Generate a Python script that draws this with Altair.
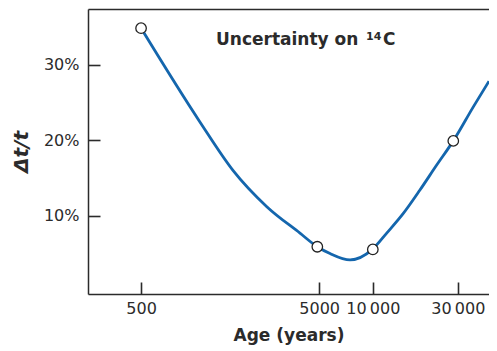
import altair as alt
import pandas as pd

# Curve
curve_age = [500, 1070, 1640, 2540, 3900, 4880, 5750, 7450, 9940, 11970, 14830, 18390, 22830, 28300, 36650, 44900]
curve_unc = [34.8, 22.4, 16.0, 11.2, 7.7, 5.9, 5.0, 4.15, 5.55, 7.7, 10.3, 13.4, 16.7, 19.9, 24.4, 27.8]

# Measured points
point_age = [500, 4880, 10000, 28300]
point_unc = [34.8, 5.9, 5.55, 19.9]

# Axis ticks
x_ticks = [500, 5000, 10000, 30000]
y_ticks = [10, 20, 30]

# Annotation "Uncertainty on 14C"
note_main = ["Uncertainty on"]
note_sup = ["14"]
note_elem = ["C"]
note_age = [1317]
note_unc = [32.6]

W, H = 401, 285
FONT = "DejaVu Sans"
INK = "#2b2b2b"
BLUE = "#1466ad"

xscale = alt.Scale(type="log", domain=[251.8, 44900], nice=False)
yscale = alt.Scale(domain=[-0.35, 37.34], nice=False, zero=False)

curve_df = pd.DataFrame({"age": curve_age, "unc": curve_unc})
point_df = pd.DataFrame({"age": point_age, "unc": point_unc})
note_df = pd.DataFrame({"age": note_age, "unc": note_unc, "main": note_main,
                        "sup": note_sup, "elem": note_elem})

inward = {"expr": "-12"}

line = alt.Chart(curve_df).mark_line(interpolate="monotone", color=BLUE, strokeWidth=2.8).encode(
    x=alt.X("age:Q", scale=xscale, axis=alt.Axis(
        values=x_ticks, ticks=True, tickSize=inward, tickWidth=1.6, tickColor=INK, grid=False,
        title="Age (years)",
        labelExpr="datum.value >= 10000 ? replace(format(datum.value, ','), ',', '\u2009') : datum.value",
        labelPadding=18, titlePadding=11, domainColor=INK, domainWidth=1.5,
        labelFont=FONT, labelFontSize=16, labelColor=INK,
        titleFont=FONT, titleFontSize=17, titleFontWeight="bold", titleColor=INK)),
    y=alt.Y("unc:Q", scale=yscale, axis=alt.Axis(
        values=y_ticks, ticks=True, tickSize=inward, tickWidth=1.6, tickColor=INK, grid=False,
        title="\u0394t/t",
        labelExpr="datum.value + '%'", labelPadding=21, titlePadding=12,
        domainColor=INK, domainWidth=1.5,
        labelFont=FONT, labelFontSize=16, labelColor=INK,
        titleFont=FONT, titleFontSize=20, titleFontWeight="bold", titleFontStyle="italic", titleColor=INK)),
)

points = alt.Chart(point_df).mark_point(shape="circle", filled=True, fill="white", stroke="#222",
                                        strokeWidth=1.3, size=110, opacity=1).encode(
    x=alt.X("age:Q", scale=xscale, axis=alt.Axis(orient="top", labels=False, ticks=False, title=None,
                                                 grid=False, domainColor=INK, domainWidth=1.5)),
    y=alt.Y("unc:Q", scale=yscale, axis=None),
)

note_enc = dict(
    x=alt.X("age:Q", scale=xscale, axis=None),
    y=alt.Y("unc:Q", scale=yscale, axis=None),
)
note1 = alt.Chart(note_df).mark_text(align="left", baseline="alphabetic", font=FONT, fontSize=17,
                                     fontWeight="bold", color=INK).encode(text="main:N", **note_enc)
note2 = alt.Chart(note_df).mark_text(align="left", baseline="alphabetic", font=FONT, fontSize=11,
                                     fontWeight="bold", color=INK, dx=150, dy=-5).encode(text="sup:N", **note_enc)
note3 = alt.Chart(note_df).mark_text(align="left", baseline="alphabetic", font=FONT, fontSize=17,
                                     fontWeight="bold", color=INK, dx=167).encode(text="elem:N", **note_enc)

chart = alt.layer(line, points, note1, note2, note3).resolve_axis(
    x="independent", y="independent"
).properties(
    width=W, height=H,
    padding={"left": 80, "top": 1, "right": 0, "bottom": 52},
    autosize=alt.AutoSizeParams(type="none"),
).configure_view(stroke=None)

chart.save("out.html", embed_options={"renderer": "svg", "actions": False})
